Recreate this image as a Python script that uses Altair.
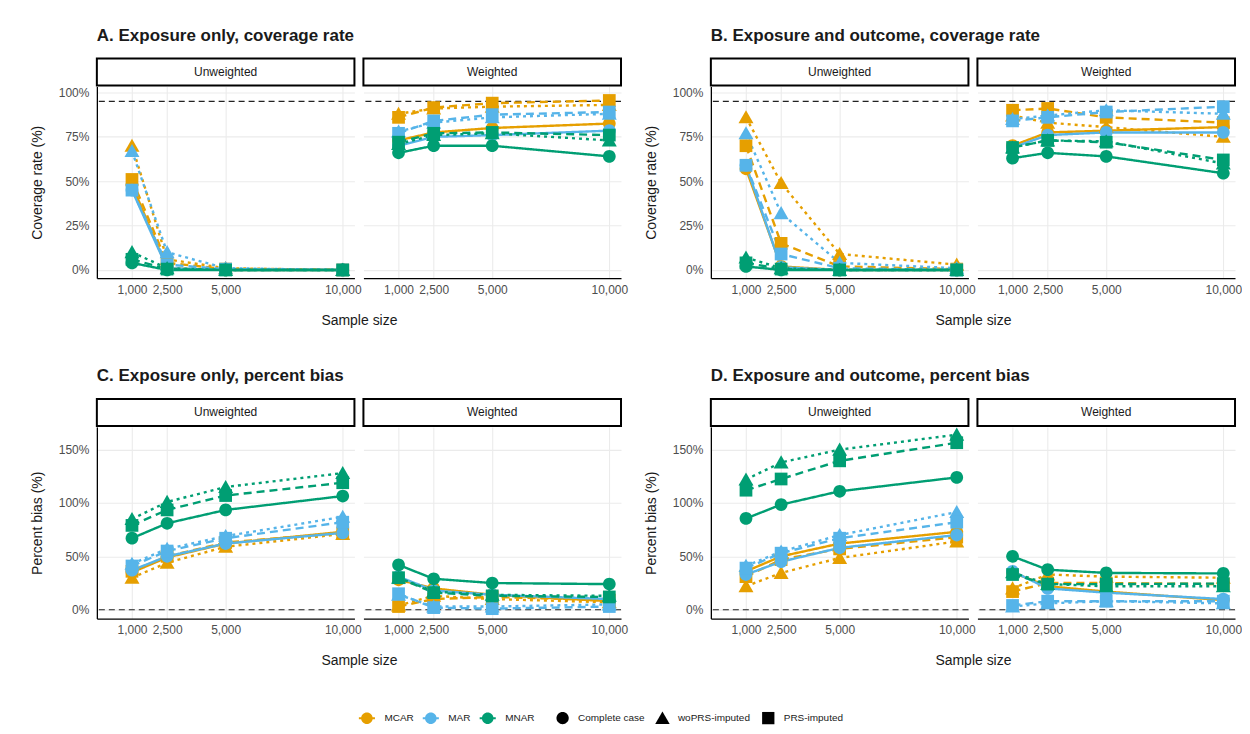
import altair as alt
import pandas as pd

# ---------------- data ----------------
SAMPLE_SIZES = [1000, 2500, 5000, 10000]
MECHANISMS = ["MCAR", "MAR", "MNAR"]
METHODS = ["Complete case", "woPRS-imputed", "PRS-imputed"]
LINETYPES = ["solid", "dotted", "dashed"]
WEIGHTS = ["Unweighted", "Weighted"]
MECH_COLORS = ["#E69F00", "#56B4E9", "#009E73"]
METHOD_SHAPES = [
    "M0.85,0A0.85,0.85,0,1,1,-0.85,0A0.85,0.85,0,1,1,0.85,0Z",
    "M0,-0.95L1,0.8L-1,0.8Z",
    "M-0.85,-0.85H0.85V0.85H-0.85Z",
]
LINETYPE_DASHES = [[1, 0], [3, 4], [8, 5]]

PANEL_TITLES = {
    "a": "A. Exposure only, coverage rate",
    "b": "B. Exposure and outcome, coverage rate",
    "c": "C. Exposure only, percent bias",
    "d": "D. Exposure and outcome, percent bias",
}
COVERAGE_TICKS = [0, 25, 50, 75, 100]
BIAS_TICKS = [0, 50, 100, 150]
COVERAGE_TARGET = [95]
BIAS_TARGET = [0]

# A. Exposure only, coverage rate (%)
a_unw_mcar_cc = [48, 1, 0, 0]
a_unw_mcar_wo = [70, 6, 1, 0]
a_unw_mcar_prs = [51, 4, 0.5, 0]
a_unw_mar_cc = [45, 1, 0, 0]
a_unw_mar_wo = [67, 10, 1, 0]
a_unw_mar_prs = [45, 3, 0.5, 0]
a_unw_mnar_cc = [4, 0, 0, 0]
a_unw_mnar_wo = [10, 1, 0, 0]
a_unw_mnar_prs = [6, 0.5, 0, 0]
a_wtd_mcar_cc = [73, 77.5, 80, 82.5]
a_wtd_mcar_wo = [88, 91, 92, 93]
a_wtd_mcar_prs = [86, 91.5, 94, 95.5]
a_wtd_mar_cc = [70, 75, 76, 78.5]
a_wtd_mar_wo = [78, 83, 86, 88]
a_wtd_mar_prs = [77, 84, 87.5, 89]
a_wtd_mnar_cc = [66, 70, 70, 64]
a_wtd_mnar_wo = [71, 76, 77, 73]
a_wtd_mnar_prs = [72, 77, 77.5, 76]

# B. Exposure and outcome, coverage rate (%)
b_unw_mcar_cc = [57, 2, 0, 0]
b_unw_mcar_wo = [86, 49, 9, 3]
b_unw_mcar_prs = [70, 15, 2, 0.5]
b_unw_mar_cc = [59, 1.5, 0, 0]
b_unw_mar_wo = [77, 32, 4, 1]
b_unw_mar_prs = [59, 9, 1, 0]
b_unw_mnar_cc = [2, 0, 0, 0]
b_unw_mnar_wo = [7, 1, 0, 0]
b_unw_mnar_prs = [4, 0.5, 0, 0]
b_wtd_mcar_cc = [70, 77.5, 78.5, 80.5]
b_wtd_mcar_wo = [87, 83, 80.5, 75]
b_wtd_mcar_prs = [90, 91, 86, 83]
b_wtd_mar_cc = [69, 76, 77.5, 77.5]
b_wtd_mar_wo = [85, 87, 90, 88]
b_wtd_mar_prs = [84, 86, 89, 92]
b_wtd_mnar_cc = [63, 66, 64, 54.5]
b_wtd_mnar_wo = [69, 73, 72.5, 60]
b_wtd_mnar_prs = [69, 73, 72, 62]

# C. Exposure only, percent bias (%)
c_unw_mcar_cc = [35, 49, 62, 73]
c_unw_mcar_wo = [30, 44, 59, 71]
c_unw_mcar_prs = [36, 50, 63, 72]
c_unw_mar_cc = [37, 50, 62, 72]
c_unw_mar_wo = [43, 57, 69, 87]
c_unw_mar_prs = [41, 55, 67, 82]
c_unw_mnar_cc = [67, 81, 93.5, 106.5]
c_unw_mnar_wo = [85, 101, 115, 128]
c_unw_mnar_prs = [79, 93.5, 107, 119]
c_wtd_mcar_cc = [28, 20, 14, 8]
c_wtd_mcar_wo = [4, 13, 10, 7]
c_wtd_mcar_prs = [3, 10, 12, 9]
c_wtd_mar_cc = [31, 18, 14, 10]
c_wtd_mar_wo = [14, 3, 3, 5]
c_wtd_mar_prs = [15, 2, 1, 3]
c_wtd_mnar_cc = [42, 29, 25, 24]
c_wtd_mnar_wo = [30, 17, 14, 13]
c_wtd_mnar_prs = [30, 16, 13, 12]

# D. Exposure and outcome, percent bias (%)
d_unw_mcar_cc = [36, 50, 62, 73]
d_unw_mcar_wo = [22, 34.5, 48.5, 64]
d_unw_mcar_prs = [31, 47, 57, 68]
d_unw_mar_cc = [33, 45, 58, 70]
d_unw_mar_wo = [41, 54.5, 70, 91.5]
d_unw_mar_prs = [39, 53, 67, 82]
d_unw_mnar_cc = [85.5, 98.5, 111, 124]
d_unw_mnar_wo = [122, 138, 150, 164]
d_unw_mnar_prs = [112, 122.5, 139.5, 156.5]
d_wtd_mcar_cc = [35, 22, 17, 9]
d_wtd_mcar_wo = [20, 33, 31, 30]
d_wtd_mcar_prs = [17, 25, 25, 24]
d_wtd_mar_cc = [36, 20, 16, 10]
d_wtd_mar_wo = [3, 6, 8, 6]
d_wtd_mar_prs = [4, 8, 8, 8]
d_wtd_mnar_cc = [50, 37.5, 34.5, 34]
d_wtd_mnar_wo = [35, 24, 22, 22]
d_wtd_mnar_prs = [33, 24, 24, 24.5]

# ---------------- table ----------------
W_CODE = {"Unweighted": "unw", "Weighted": "wtd"}
M_CODE = {"MCAR": "mcar", "MAR": "mar", "MNAR": "mnar"}
K_CODE = {"Complete case": "cc", "woPRS-imputed": "wo", "PRS-imputed": "prs"}
K_LINE = dict(zip(METHODS, LINETYPES))

rows = []
for p in PANEL_TITLES:
    for w in WEIGHTS:
        for m in MECHANISMS:
            for k in METHODS:
                vals = globals()[f"{p}_{W_CODE[w]}_{M_CODE[m]}_{K_CODE[k]}"]
                for n, v in zip(SAMPLE_SIZES, vals):
                    rows.append({"panel": p, "weight": w, "mech": m,
                                 "method": k, "linetype": K_LINE[k], "n": n,
                                 "value": v})
df = pd.DataFrame(rows)

# ---------------- style ----------------
FONT = "Liberation Sans"
PW, PH = 258, 192
FACET_GAP = 9
STRIP_H = 27

LEGEND_PATH = ("M-1,-0.13H1V0.13H-1Z "
               "M0.72,0A0.72,0.72,0,1,1,-0.72,0A0.72,0.72,0,1,1,0.72,0Z")

color_enc = alt.Color(
    "mech:N",
    scale=alt.Scale(domain=MECHANISMS, range=MECH_COLORS),
    legend=alt.Legend(title=None, orient="none", direction="horizontal",
                      legendX=262, legendY=624, symbolType=LEGEND_PATH,
                      symbolSize=260, symbolStrokeWidth=0, labelFontSize=10,
                      labelOffset=9, columnPadding=8, labelColor="#1a1a1a"),
)
shape_enc = alt.Shape(
    "method:N",
    scale=alt.Scale(domain=METHODS, range=METHOD_SHAPES),
    legend=alt.Legend(title=None, orient="none", direction="horizontal",
                      legendX=459, legendY=625, symbolSize=210,
                      symbolFillColor="black", symbolStrokeColor="black",
                      symbolStrokeWidth=0, labelFontSize=10, labelOffset=8,
                      columnPadding=10, labelColor="#1a1a1a"),
)
dash_enc = alt.StrokeDash(
    "linetype:N",
    scale=alt.Scale(domain=LINETYPES, range=LINETYPE_DASHES),
    legend=None,
)
X_LABEL_EXPR = "format(datum.value, ',')"


def facet(p, w, ydom, yticks, target, ytitle):
    sub = df[(df.panel == p) & (df.weight == w)]
    first = w == "Unweighted"
    if first:
        yaxis = alt.Axis(values=yticks, labelExpr="datum.value + '%'",
                         title=ytitle, ticks=False, domain=True,
                         domainColor="black", domainWidth=1.3,
                         labelPadding=8, titlePadding=14, grid=True)
        xaxis = alt.Axis(values=SAMPLE_SIZES, labelExpr=X_LABEL_EXPR,
                         title="Sample size",
                         ticks=False, domain=True, domainColor="black",
                         domainWidth=1.3, labelPadding=6, titlePadding=18,
                         titleX=(2 * PW + FACET_GAP) / 2, grid=True)
    else:
        yaxis = alt.Axis(values=yticks, labels=False, title=None, ticks=False,
                         domain=False, grid=True)
        xaxis = alt.Axis(values=SAMPLE_SIZES, labelExpr=X_LABEL_EXPR,
                         title=None, ticks=False, domain=True,
                         domainColor="black", domainWidth=1.3, labelPadding=6,
                         grid=True)
    x = alt.X("n:Q", scale=alt.Scale(domain=[-500, 10500], nice=False,
                                     zero=False), axis=xaxis)
    y = alt.Y("value:Q", scale=alt.Scale(domain=ydom, nice=False, zero=False),
              axis=yaxis)
    base = alt.Chart(sub)
    lines = base.mark_line(strokeWidth=2.4).encode(
        x=x, y=y, color=color_enc, strokeDash=dash_enc,
        detail="linetype:N")
    pts = base.mark_point(filled=True, opacity=1, size=225).encode(
        x=x, y=y, color=color_enc, shape=shape_enc)
    ref = alt.Chart(pd.DataFrame({"t": target})).mark_rule(
        color="#222222", strokeWidth=1.2, strokeDash=[6, 4]).encode(
        y=alt.Y("t:Q", scale=alt.Scale(domain=ydom, nice=False, zero=False),
                axis=yaxis))
    strip_df = pd.DataFrame({"label": [w]})
    strip = alt.Chart(strip_df).mark_rect(
        fill="white", stroke="black", strokeWidth=2).encode(
        x=alt.value(0), x2=alt.value(PW), y=alt.value(-STRIP_H - 1),
        y2=alt.value(-1))
    strip_txt = alt.Chart(strip_df).mark_text(
        fontSize=12, font=FONT, color="#1a1a1a").encode(
        x=alt.value(PW / 2), y=alt.value(-STRIP_H / 2 - 1), text="label:N")
    return alt.layer(ref, lines, pts, strip, strip_txt).properties(
        width=PW, height=PH)


def panel(p):
    if p in ("a", "b"):
        ydom, yticks, target, ytitle = [-4.6, 103.4], COVERAGE_TICKS, COVERAGE_TARGET, "Coverage rate (%)"
    else:
        ydom, yticks, target, ytitle = [-8.3, 171.3], BIAS_TICKS, BIAS_TARGET, "Percent bias (%)"
    return alt.hconcat(
        facet(p, "Unweighted", ydom, yticks, target, ytitle),
        facet(p, "Weighted", ydom, yticks, target, ytitle),
        spacing=FACET_GAP, bounds="flush",
    ).properties(title=alt.TitleParams(
        PANEL_TITLES[p], anchor="start", fontSize=17, fontWeight="bold",
        font=FONT, color="#1a1a1a", offset=13, frame="group"))


row1 = alt.hconcat(panel("a"), panel("b"), spacing=16)
row2 = alt.hconcat(panel("c"), panel("d"), spacing=16)

chart = alt.vconcat(row1, row2, spacing=40).resolve_scale(
    color="shared", shape="shared", strokeDash="shared"
).properties(
    padding={"left": 22, "top": 18, "right": 0, "bottom": 5}
).configure(
    font=FONT,
).configure_view(
    stroke=None,
).configure_axis(
    gridColor="#EBEBEB", gridWidth=1.1, labelFont=FONT, titleFont=FONT,
    labelFontSize=12, labelColor="#4D4D4D", titleFontSize=14,
    titleFontWeight="normal", titleColor="#1a1a1a",
).configure_legend(
    labelFont=FONT,
)

chart.save("out.html", embed_options={"renderer": "svg", "actions": False})
